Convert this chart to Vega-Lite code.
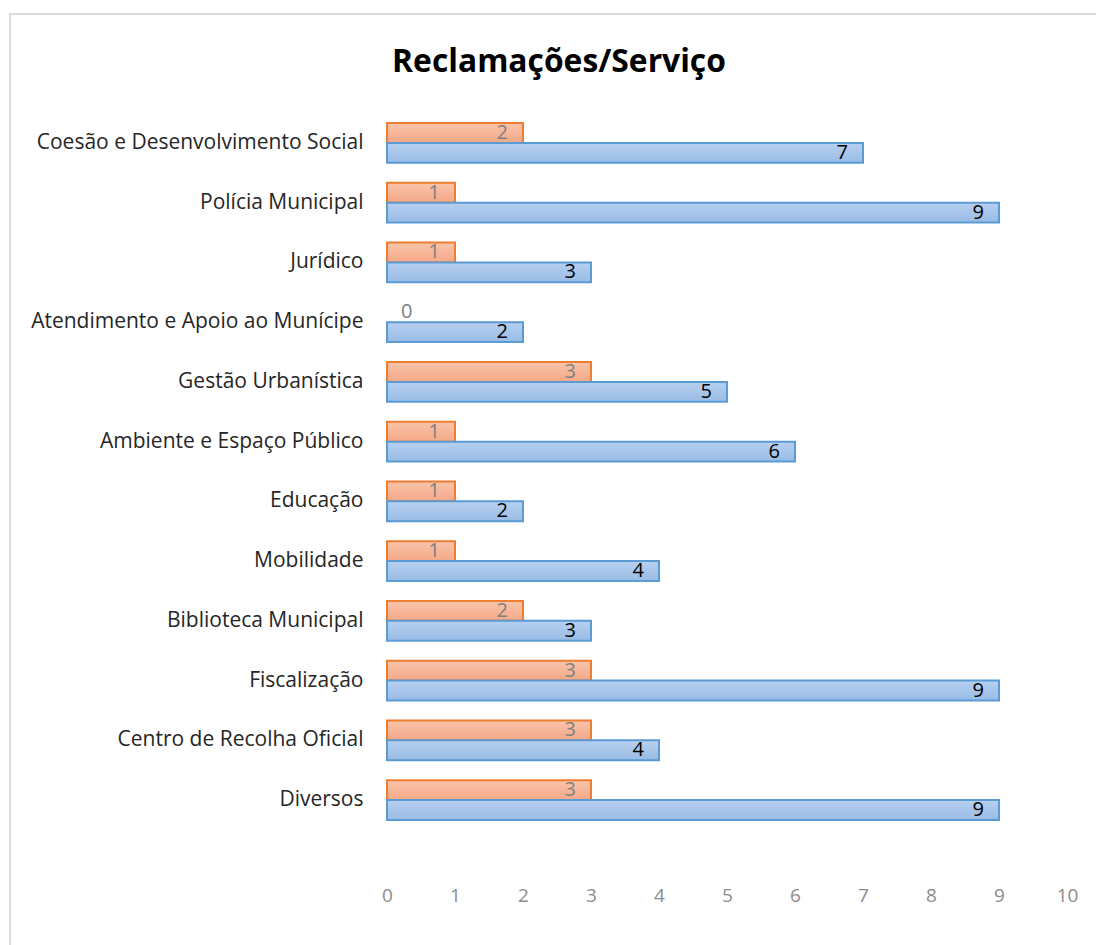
{
  "$schema": "https://vega.github.io/schema/vega-lite/v6.json",
  "width": 1086,
  "height": 931,
  "autosize": {"type": "none"},
  "padding": {"left": 10, "top": 14, "right": 0, "bottom": 0},
  "background": "white",
  "config": {
    "view": {"stroke": "#d9d9d9", "strokeWidth": 2, "strokeDash": [1086, 2017, 931]},
    "font": "Open Sans"
  },
  "title": {
    "text": "Reclamações/Serviço",
    "font": "Open Sans",
    "fontSize": 31.8,
    "fontWeight": "bold",
    "color": "#000000",
    "anchor": "middle",
    "frame": "group",
    "dx": 6,
    "dy": 69
  },
  "data": {
    "values": [
      {"servico": "Coesão e Desenvolvimento Social", "serie": "Série2", "valor": 2},
      {"servico": "Coesão e Desenvolvimento Social", "serie": "Série1", "valor": 7},
      {"servico": "Polícia Municipal", "serie": "Série2", "valor": 1},
      {"servico": "Polícia Municipal", "serie": "Série1", "valor": 9},
      {"servico": "Jurídico", "serie": "Série2", "valor": 1},
      {"servico": "Jurídico", "serie": "Série1", "valor": 3},
      {"servico": "Atendimento e Apoio ao Munícipe", "serie": "Série2", "valor": 0},
      {"servico": "Atendimento e Apoio ao Munícipe", "serie": "Série1", "valor": 2},
      {"servico": "Gestão Urbanística", "serie": "Série2", "valor": 3},
      {"servico": "Gestão Urbanística", "serie": "Série1", "valor": 5},
      {"servico": "Ambiente e Espaço Público", "serie": "Série2", "valor": 1},
      {"servico": "Ambiente e Espaço Público", "serie": "Série1", "valor": 6},
      {"servico": "Educação", "serie": "Série2", "valor": 1},
      {"servico": "Educação", "serie": "Série1", "valor": 2},
      {"servico": "Mobilidade", "serie": "Série2", "valor": 1},
      {"servico": "Mobilidade", "serie": "Série1", "valor": 4},
      {"servico": "Biblioteca Municipal", "serie": "Série2", "valor": 2},
      {"servico": "Biblioteca Municipal", "serie": "Série1", "valor": 3},
      {"servico": "Fiscalização", "serie": "Série2", "valor": 3},
      {"servico": "Fiscalização", "serie": "Série1", "valor": 9},
      {"servico": "Centro de Recolha Oficial", "serie": "Série2", "valor": 3},
      {"servico": "Centro de Recolha Oficial", "serie": "Série1", "valor": 4},
      {"servico": "Diversos", "serie": "Série2", "valor": 3},
      {"servico": "Diversos", "serie": "Série1", "valor": 9}
    ]
  },
  "encoding": {
    "y": {
      "field": "servico",
      "type": "nominal",
      "title": null,
      "scale": {
        "domain": ["Coesão e Desenvolvimento Social", "Polícia Municipal", "Jurídico", "Atendimento e Apoio ao Munícipe", "Gestão Urbanística", "Ambiente e Espaço Público", "Educação", "Mobilidade", "Biblioteca Municipal", "Fiscalização", "Centro de Recolha Oficial", "Diversos"],
        "range": [99, 816],
        "paddingInner": 0.333,
        "paddingOuter": 0.1667
      },
      "axis": {
        "offset": -377,
        "domain": false,
        "ticks": false,
        "tickSize": 0,
        "grid": false,
        "labelPadding": 24,
        "labelFont": "Open Sans",
        "labelFontSize": 21,
        "labelColor": "#262626",
        "labelLimit": 400
      }
    },
    "yOffset": {
      "field": "serie",
      "type": "nominal",
      "scale": {"domain": ["Série2", "Série1"], "paddingInner": 0, "paddingOuter": 0}
    },
    "x": {
      "field": "valor",
      "type": "quantitative",
      "stack": null,
      "title": null,
      "scale": {"domain": [-5.544, 10.426], "nice": false, "zero": false},
      "axis": {
        "values": [0, 1, 2, 3, 4, 5, 6, 7, 8, 9, 10],
        "offset": -61,
        "labelPadding": 2,
        "domain": false,
        "ticks": false,
        "tickSize": 0,
        "grid": false,
        "labelFont": "Open Sans",
        "labelFontSize": 19,
        "labelColor": "#8c8c8c",
        "labelFlush": false
      }
    }
  },
  "layer": [
    {
      "transform": [{"filter": "datum.serie === 'Série2' && datum.valor > 0"}],
      "mark": {
        "type": "bar",
        "stroke": "#ed7d31",
        "strokeWidth": 2,
        "fill": {
          "gradient": "linear", "x1": 0, "y1": 0, "x2": 0, "y2": 1,
          "stops": [{"offset": 0, "color": "#f9c4ab"}, {"offset": 1, "color": "#f4a886"}]
        }
      }
    },
    {
      "transform": [{"filter": "datum.serie === 'Série1'"}],
      "mark": {
        "type": "bar",
        "stroke": "#5b9bd5",
        "strokeWidth": 2,
        "fill": {
          "gradient": "linear", "x1": 0, "y1": 0, "x2": 0, "y2": 1,
          "stops": [{"offset": 0, "color": "#b7d0ef"}, {"offset": 1, "color": "#98bbe5"}]
        }
      }
    },
    {
      "transform": [{"filter": "datum.serie === 'Série2' && datum.valor > 0"}],
      "mark": {"type": "text", "align": "right", "baseline": "middle", "dx": -15, "font": "Open Sans", "fontSize": 20, "color": "#808080"},
      "encoding": {"text": {"field": "valor", "type": "quantitative"}}
    },
    {
      "transform": [{"filter": "datum.serie === 'Série2' && datum.valor === 0"}],
      "mark": {"type": "text", "align": "left", "baseline": "middle", "dx": 14, "font": "Open Sans", "fontSize": 20, "color": "#808080"},
      "encoding": {"text": {"field": "valor", "type": "quantitative"}}
    },
    {
      "transform": [{"filter": "datum.serie === 'Série1'"}],
      "mark": {"type": "text", "align": "right", "baseline": "middle", "dx": -15, "font": "Open Sans", "fontSize": 20, "color": "#000000"},
      "encoding": {"text": {"field": "valor", "type": "quantitative"}}
    }
  ]
}
